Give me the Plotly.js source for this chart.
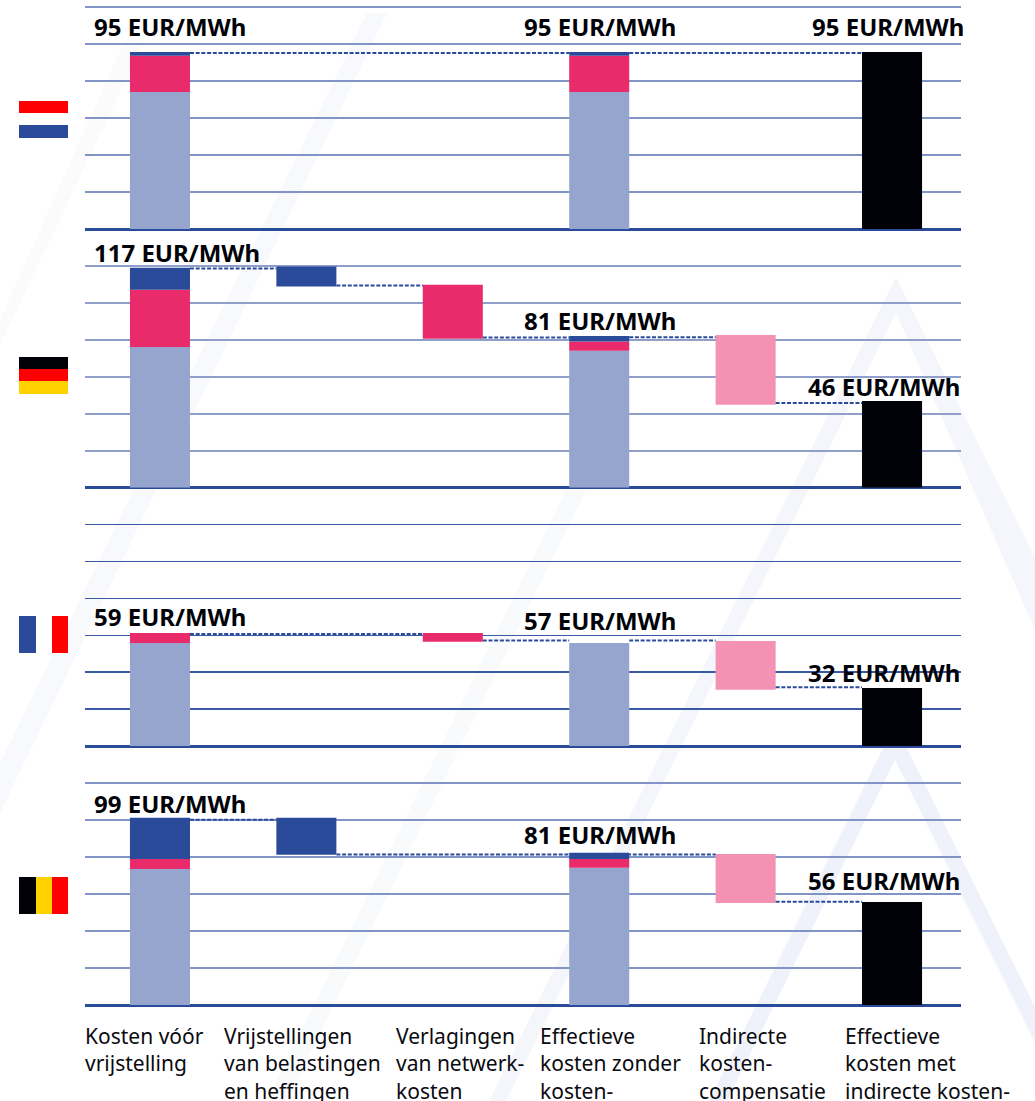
<!DOCTYPE html>
<html>
<head>
<meta charset="utf-8">
<script src="https://cdn.plot.ly/plotly-3.0.1.min.js"></script>
<style>
  html, body { margin: 0; padding: 0; background: #fff; overflow: hidden; }
</style>
</head>
<body>
<div id="chart" style="width:1035px;height:1101px"></div>
<script>
// column order, same for every country row
var positions = [0, 1, 2, 3, 4, 5];
var categories = [
  "Kosten vóór<br>vrijstelling",
  "Vrijstellingen<br>van belastingen<br>en heffingen",
  "Verlagingen<br>van netwerk-<br>kosten",
  "Effectieve<br>kosten zonder<br>kosten-",
  "Indirecte<br>kosten-<br>compensatie",
  "Effectieve<br>kosten met<br>indirecte kosten-"
];

// values in axis units (one gridline = 20)
// Netherlands
var nlEnergy = [74.1, null, null, 74.1, null, null];
var nlPinkLow = [74.1, null, null, 74.1, null, null];
var nlPinkHigh = [93.6, null, null, 93.6, null, null];
var nlBlueLow = [93.6, null, null, 93.6, null, null];
var nlBlueHigh = [95.7, null, null, 95.7, null, null];
var nlCompLow = [null, null, null, null, null, null];
var nlCompHigh = [null, null, null, null, null, null];
var nlFinal = [null, null, null, null, null, 95.7];
var nlLinks = [[0, 3, 95.1], [3, 5, 95.1]];
var nlLabels = ["95 EUR/MWh", "95 EUR/MWh", "95 EUR/MWh"];

// Germany
var deEnergy = [76.1, null, null, 74.1, null, null];
var dePinkLow = [76.1, null, 80.5, 74.1, null, null];
var dePinkHigh = [107.0, null, 109.7, 79.0, null, null];
var deBlueLow = [107.0, 108.8, null, 79.0, null, null];
var deBlueHigh = [118.9, 119.6, null, 82.1, null, null];
var deCompLow = [null, null, null, null, 44.8, null];
var deCompHigh = [null, null, null, null, 82.6, null];
var deFinal = [null, null, null, null, null, 46.9];
var deLinks = [[0, 1, 118.6], [1, 2, 109.3], [2, 3, 81.2], [3, 4, 81.4], [4, 5, 45.8]];
var deLabels = ["117 EUR/MWh", "81 EUR/MWh", "46 EUR/MWh"];

// France
var frEnergy = [55.8, null, null, 55.8, null, null];
var frPinkLow = [55.8, null, 56.4, null, null, null];
var frPinkHigh = [61.2, null, 61.2, null, null, null];
var frBlueLow = [null, null, null, null, null, null];
var frBlueHigh = [null, null, null, null, null, null];
var frCompLow = [null, null, null, null, 30.4, null];
var frCompHigh = [null, null, null, null, 56.9, null];
var frFinal = [null, null, null, null, null, 31.4];
var frLinks = [[0, 2, 60.7], [2, 3, 57.1], [3, 4, 57.1], [4, 5, 31.8]];
var frLabels = ["59 EUR/MWh", "57 EUR/MWh", "32 EUR/MWh"];

// Belgium
var beEnergy = [73.5, null, null, 74.1, null, null];
var bePinkLow = [73.5, null, null, 74.1, null, null];
var bePinkHigh = [78.9, null, null, 78.9, null, null];
var beBlueLow = [78.9, 81.1, null, 78.9, null, null];
var beBlueHigh = [101.1, 101.1, null, 82.2, null, null];
var beCompLow = [null, null, null, null, 55.1, null];
var beCompHigh = [null, null, null, null, 81.6, null];
var beFinal = [null, null, null, null, null, 55.7];
var beLinks = [[0, 1, 100.0], [1, 4, 81.3], [4, 5, 55.8]];
var beLabels = ["99 EUR/MWh", "81 EUR/MWh", "56 EUR/MWh"];

var W = 1035, H = 1101;
var BAR_WIDTH = 0.41;
var DARK_BLUE = "#2a4a9a";
var LIGHT_BLUE = "#96a5cd";
var PINK = "#e92b6b";
var LIGHT_PINK = "#f492b4";
var BLACK = "#000208";

function px(x) { return x / W; }
function py(y) { return 1 - y / H; }

function bars(axis, values, low, color) {
  return {
    type: "bar", x: positions, y: values, base: low, yaxis: axis, width: BAR_WIDTH,
    marker: { color: color, line: { width: 0 } }, hoverinfo: "skip", showlegend: false
  };
}

function spans(axis, lows, highs, color) {
  var heights = highs.map(function (h, i) { return h === null ? null : h - lows[i]; });
  return bars(axis, heights, lows, color);
}

function links(axis, list) {
  var xs = [], ys = [];
  list.forEach(function (l) {
    xs.push(l[0] + BAR_WIDTH / 2, l[1] - BAR_WIDTH / 2, null);
    ys.push(l[2], l[2], null);
  });
  return {
    type: "scatter", mode: "lines", x: xs, y: ys, yaxis: axis, hoverinfo: "skip", showlegend: false,
    line: { color: DARK_BLUE, width: 2, dash: "4px,1.7px" }
  };
}

function row(axis, energy, pinkLow, pinkHigh, blueLow, blueHigh, compLow, compHigh, finalCost, linkList) {
  return [
    links(axis, linkList),
    bars(axis, energy, 0, LIGHT_BLUE),
    spans(axis, pinkLow, pinkHigh, PINK),
    spans(axis, blueLow, blueHigh, DARK_BLUE),
    spans(axis, compLow, compHigh, LIGHT_PINK),
    bars(axis, finalCost, 0, BLACK)
  ];
}

var data = [].concat(
  row("y", nlEnergy, nlPinkLow, nlPinkHigh, nlBlueLow, nlBlueHigh, nlCompLow, nlCompHigh, nlFinal, nlLinks),
  row("y2", deEnergy, dePinkLow, dePinkHigh, deBlueLow, deBlueHigh, deCompLow, deCompHigh, deFinal, deLinks),
  row("y3", frEnergy, frPinkLow, frPinkHigh, frBlueLow, frBlueHigh, frCompLow, frCompHigh, frFinal, frLinks),
  row("y4", beEnergy, bePinkLow, bePinkHigh, beBlueLow, beBlueHigh, beCompLow, beCompHigh, beFinal, beLinks)
);

function yAxis(top, bottom, max, gridcolor, gridwidth) {
  return {
    domain: [py(bottom), py(top)], range: [0, max], anchor: "x", tick0: 0, dtick: 20,
    showticklabels: false, ticks: "", showline: false, showgrid: true,
    gridcolor: gridcolor, gridwidth: gridwidth,
    zeroline: true, zerolinecolor: DARK_BLUE, zerolinewidth: 3, fixedrange: true
  };
}

function rect(x0, y0, x1, y1, color) {
  return {
    type: "rect", xref: "paper", yref: "paper", layer: "below",
    x0: px(x0), x1: px(x1), y0: py(y0), y1: py(y1),
    fillcolor: color, line: { width: 0 }
  };
}

function poly(points, color) {
  var d = points.map(function (p, i) {
    return (i ? "L" : "M") + px(p[0]) + "," + py(p[1]);
  }).join(" ") + " Z";
  return { type: "path", xref: "paper", yref: "paper", layer: "below", path: d, fillcolor: color, line: { width: 0 } };
}

var shapes = [
  // faint background pattern
  poly([[125, 40], [145, 40], [0, 345], [0, 320]], "#fbfbfc"),
  poly([[367, 13], [387, 13], [0, 813], [0, 763]], "#f8f9fc"),
  poly([[566, 490], [586, 490], [287, 1101], [267, 1101]], "#f9fafc"),
  poly([[896, 277], [1035, 558], [1035, 630], [896, 313], [506, 1101], [489, 1101]], "#f4f6fb"),
  poly([[895, 724], [1035, 1007], [1035, 1043], [895, 760], [727, 1101], [709, 1101]], "#eff2fa"),
  // flags
  rect(19, 101, 68, 113, "#ff0000"),
  rect(19, 125, 68, 138, DARK_BLUE),
  rect(19, 357, 68, 369, BLACK),
  rect(19, 369, 68, 381, "#ff0000"),
  rect(19, 381, 68, 394, "#ffd200"),
  rect(19, 616, 36, 653, DARK_BLUE),
  rect(52, 616, 68, 653, "#ff0000"),
  rect(19, 877, 36, 914, BLACK),
  rect(36, 877, 52, 914, "#ffd200"),
  rect(52, 877, 68, 914, "#ff0000")
];

function totalLabel(text, cx, cy) {
  return {
    text: text, xref: "paper", yref: "paper", x: px(cx), y: py(cy),
    xanchor: "center", yanchor: "middle", showarrow: false,
    font: { family: "Noto Sans", size: 24, color: "#000208", weight: 700 }
  };
}

var labelSpots = [
  [nlLabels, [[170, 26], [600, 26], [888, 26]]],
  [deLabels, [[177, 253], [600, 320], [884, 387]]],
  [frLabels, [[170, 617], [600, 620], [884, 672]]],
  [beLabels, [[170, 803], [600, 834], [884, 880]]]
];

var annotations = [];
labelSpots.forEach(function (r) {
  r[0].forEach(function (t, i) { annotations.push(totalLabel(t, r[1][i][0], r[1][i][1])); });
});

var categoryLefts = [83, 222, 394, 538, 697, 843];
categories.forEach(function (c, i) {
  annotations.push({
    text: c, xref: "paper", yref: "paper", x: px(categoryLefts[i]), y: py(1020),
    xanchor: "left", yanchor: "top", align: "left", showarrow: false,
    font: { family: "Noto Sans", size: 21, color: "#0a0a0f" }
  });
});

var layout = {
  width: W, height: H,
  margin: { l: 0, r: 0, t: 0, b: 0, pad: 0 },
  paper_bgcolor: "#ffffff",
  plot_bgcolor: "rgba(0,0,0,0)",
  barmode: "overlay",
  showlegend: false,
  xaxis: {
    domain: [px(85), px(961)], range: [-0.512, 5.471], anchor: "y4",
    showticklabels: false, ticks: "", showgrid: false, zeroline: false, showline: false, fixedrange: true
  },
  yaxis: yAxis(4, 229, 121.6, "#8094c6", 2),
  yaxis2: yAxis(229, 487.7, 139.9, "#8f9fca", 2),
  yaxis3: yAxis(487.7, 746, 139.9, "#3a59a4", 1.4),
  yaxis4: yAxis(746, 1005, 139.9, "#8094c6", 2),
  shapes: shapes,
  annotations: annotations
};

Plotly.newPlot("chart", data, layout, { displayModeBar: false, staticPlot: true });
</script>
</body>
</html>
